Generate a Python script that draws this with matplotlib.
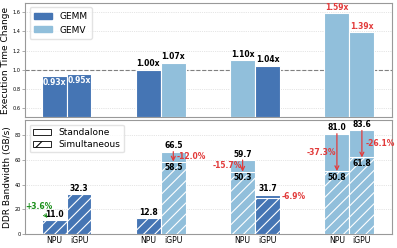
import numpy as np
import matplotlib
matplotlib.use('Agg')
import matplotlib.pyplot as plt
from matplotlib.patches import Patch

# data
groups       = np.arange(4)
npu_kind     = ['GEMM', 'GEMM', 'GEMV', 'GEMV']
igpu_kind    = ['GEMM', 'GEMV', 'GEMM', 'GEMV']
time_npu     = [0.93, 1.00, 1.10, 1.59]
time_igpu    = [0.95, 1.07, 1.04, 1.39]
bw_npu_alone = [10.6, 12.8, 59.7, 81.0]
bw_npu_sim   = [11.0, 12.8, 50.3, 50.8]
bw_igpu_alone = [32.3, 66.5, 31.7, 83.6]
bw_igpu_sim  = [32.3, 58.5, 29.5, 61.8]
pct_npu      = ['+3.6%', None, '-15.7%', '-37.3%']
pct_igpu     = [None, '-12.0%', '-6.9%', '-26.1%']
xticklabels  = ['NPU', 'iGPU']

colors = {'GEMM': '#4575b4', 'GEMV': '#91bfdb'}
red = '#e23b3b'
green = '#1a8f1a'
w = 0.265

plt.rcParams['hatch.linewidth'] = 0.8

fig = plt.figure(figsize=(3.97, 2.48), dpi=100)
ax1 = fig.add_axes([0.063, 0.528, 0.924, 0.46])
ax2 = fig.add_axes([0.063, 0.056, 0.924, 0.46])

xn = groups - w/2
xi = groups + w/2

# ---- top: execution time change
for i in groups:
    for x, kind, v in [(xn[i], npu_kind[i], time_npu[i]), (xi[i], igpu_kind[i], time_igpu[i])]:
        ax1.bar(x, v - 0.5, w, bottom=0.5, color=colors[kind], edgecolor='white', lw=0.8, zorder=3)
        lab = f'{v:.2f}x'
        if v < 1.0:
            ax1.annotate(lab, (x, v), xytext=(0, -1), textcoords='offset points', ha='center', va='top',
                         fontsize=5.5, fontweight='bold', color='white', zorder=5)
        else:
            c = red if v > 1.3 else 'black'
            ax1.annotate(lab, (x, v), xytext=(0, 1), textcoords='offset points', ha='center', va='bottom',
                         fontsize=5.5, fontweight='bold', color=c, zorder=5)

ax1.axhline(1.0, color='grey', ls='--', lw=0.8, zorder=2)
ax1.set_ylim(0.5, 1.7)
ax1.set_yticks([0.6, 0.8, 1.0, 1.2, 1.4, 1.6])
ax1.set_ylabel('Execution Time Change', fontsize=6.5, labelpad=2)
ax1.tick_params(axis='x', bottom=False, labelbottom=False)
ax1.legend(handles=[Patch(color=colors['GEMM'], label='GEMM'), Patch(color=colors['GEMV'], label='GEMV')],
           loc='upper left', fontsize=6.5, frameon=True, edgecolor='#dddddd', borderpad=0.5,
           handlelength=2.0, handleheight=0.6, labelspacing=0.5)

# ---- bottom: DDR bandwidth
bars = []
for i in groups:
    bars.append((xn[i], npu_kind[i], bw_npu_alone[i], bw_npu_sim[i], pct_npu[i]))
    bars.append((xi[i], igpu_kind[i], bw_igpu_alone[i], bw_igpu_sim[i], pct_igpu[i]))
sides = ['green', None, None, 'right', 'left', 'edge', 'left', 'right']

for k, (x, kind, a, s, pct) in enumerate(bars):
    ax2.bar(x, a, w, color=colors[kind], edgecolor='white', lw=0.8, zorder=3)
    ax2.bar(x, s, w, color=colors[kind], edgecolor='white', lw=0.8, hatch='///', zorder=4)
    top = max(a, s)
    ax2.annotate(f'{top:.1f}', (x, top), xytext=(0, 1), textcoords='offset points', ha='center',
                 va='bottom', fontsize=5.5, fontweight='bold', zorder=6)
    if a - s > 5:
        ax2.annotate(f'{s:.1f}', (x, s), xytext=(0, -1), textcoords='offset points', ha='center',
                     va='top', fontsize=5.5, fontweight='bold', zorder=6)
    side = sides[k]
    if pct is None:
        continue
    if side == 'green':
        ax2.annotate(pct, xy=(x - 0.07, 13.0), xytext=(x - 0.165, 22.6), ha='center', va='center',
                     fontsize=5.5, fontweight='bold', color=green, zorder=6,
                     arrowprops=dict(arrowstyle='->', color=green, lw=0.7, shrinkA=1, shrinkB=0,
                                     mutation_scale=6))
        continue
    if a - s > 3:
        ax2.annotate('', xy=(x, s), xytext=(x, a), zorder=7,
                     arrowprops=dict(arrowstyle='->', color=red, lw=0.9, shrinkA=0, shrinkB=0,
                                     mutation_scale=7))
    mid = (a + s) / 2
    if side == 'right':
        ax2.text(x + 0.04, mid, pct, ha='left', va='center', fontsize=5.5, fontweight='bold', color=red, zorder=8)
    elif side == 'left':
        ax2.text(x - 0.01, mid, pct, ha='right', va='center', fontsize=5.5, fontweight='bold', color=red, zorder=8)
    else:
        ax2.text(x + w/2 + 0.02, mid, pct, ha='left', va='center', fontsize=5.5, fontweight='bold', color=red, zorder=8)

ax2.set_ylim(0, 92)
ax2.set_yticks([0, 20, 40, 60, 80])
ax2.set_ylabel('DDR Bandwidth (GB/s)', fontsize=6.5, labelpad=2)
ax2.set_xticks(np.concatenate([[a, b] for a, b in zip(xn, xi)]))
ax2.set_xticklabels(xticklabels * 4, fontsize=5.6)
ax2.tick_params(axis='x', length=0, pad=1.5)
ax2.legend(handles=[Patch(facecolor='white', edgecolor='black', lw=0.6, label='Standalone'),
                    Patch(facecolor='white', edgecolor='black', lw=0.6, hatch='//', label='Simultaneous')],
           loc='upper left', fontsize=6.5, frameon=True, edgecolor='#dddddd', borderpad=0.4,
           handlelength=2.0, handleheight=0.6, labelspacing=0.3)

for ax in (ax1, ax2):
    ax.set_xlim(-0.44, 3.45)
    ax.grid(axis='y', ls=':', lw=0.5, color='#cccccc', zorder=0)
    ax.set_axisbelow(True)
    ax.tick_params(axis='y', labelsize=3.6, length=2, width=0.5, color='#888888', pad=1)
    for sp in ax.spines.values():
        sp.set_color('#999999')
        sp.set_linewidth(0.8)

fig.savefig('out.png', dpi=100)
